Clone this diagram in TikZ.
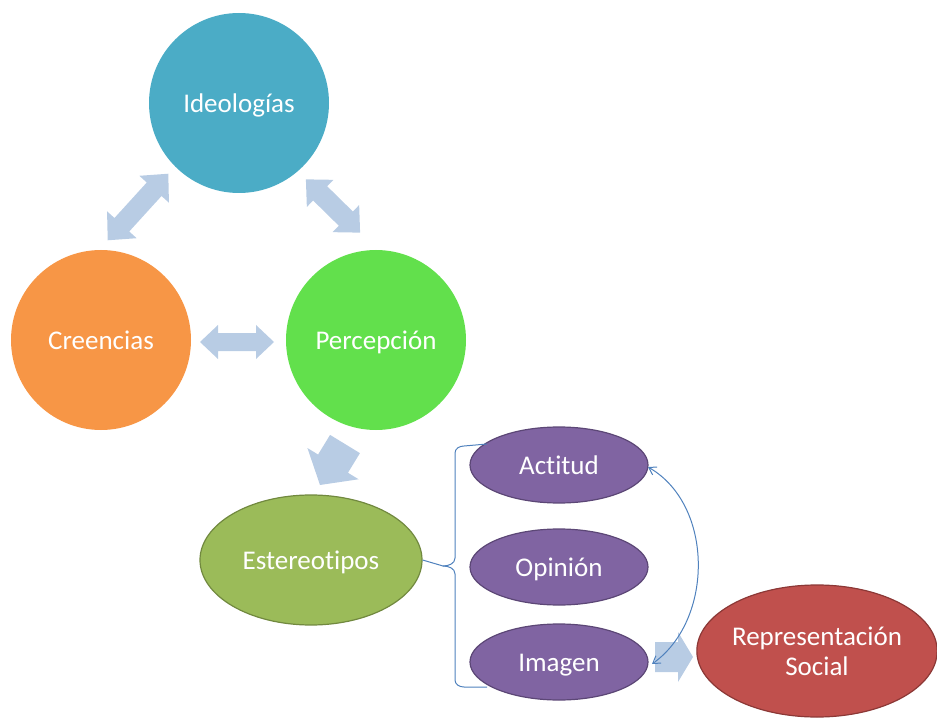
\documentclass[tikz,border=0pt]{standalone}
\usepackage{fontspec}
\setmainfont{Carlito}[Ligatures={NoCommon}]
\usetikzlibrary{shapes.geometric,arrows.meta}
\definecolor{cteal}{RGB}{75,172,198}
\definecolor{corange}{RGB}{247,150,70}
\definecolor{cgreen}{RGB}{98,224,76}
\definecolor{colive}{RGB}{155,187,89}
\definecolor{coliveb}{RGB}{113,137,63}
\definecolor{cpurple}{RGB}{128,100,162}
\definecolor{cpurpleb}{RGB}{92,71,118}
\definecolor{cred}{RGB}{192,80,77}
\definecolor{credb}{RGB}{140,56,54}
\definecolor{cblock}{RGB}{184,204,228}
\definecolor{cline}{RGB}{79,129,189}
\begin{document}
\begin{tikzpicture}[x=1pt,y=-1pt,
  lbl/.style={text=white,font=\fontsize{27}{30}\selectfont,align=center},
  oneline/.style={text height=20pt,text depth=1.5pt},
  bigcircle/.style={circle,minimum size=180pt,inner sep=0pt,lbl,oneline},
  oval/.style={ellipse,inner sep=0pt,line width=1.2pt,lbl},
  purpleoval/.style={oval,oneline,minimum width=178pt,minimum height=76pt,fill=cpurple,draw=cpurpleb},
  blockfill/.style={fill=cblock},
  thinline/.style={draw=cline,line width=1pt},
  pics/dblarrow/.style n args={4}{code={
    \fill[blockfill] ({-#1},0) -- ({-#1+#4},{#2}) -- ({-#1+#4},{#3}) -- ({#1-#4},{#3}) -- ({#1-#4},{#2}) -- ({#1},0)
      -- ({#1-#4},{-#2}) -- ({#1-#4},{-#3}) -- ({-#1+#4},{-#3}) -- ({-#1+#4},{-#2}) -- cycle;}},
  pics/sglarrow/.style n args={4}{code={
    \fill[blockfill] ({-#1},{#3}) -- ({#1-#4},{#3}) -- ({#1-#4},{#2}) -- ({#1},0)
      -- ({#1-#4},{-#2}) -- ({#1-#4},{-#3}) -- ({-#1},{-#3}) -- cycle;}}
]
\useasboundingbox (0,0) rectangle (937,719);

% block arrows
\pic[rotate=47.7] at (138,207) {dblarrow={45}{20}{10}{21}};
\pic[rotate=-44.5] at (333,206) {dblarrow={38}{19}{10}{20}};
\pic at (237,342) {dblarrow={37}{17}{9}{18}};
\pic[rotate=238.6] at (332.5,464.5) {sglarrow={24}{30}{17.5}{25}};
\pic at (674,657) {sglarrow={19}{25}{15}{15}};

% nodes
\node[bigcircle,fill=cteal] (ideo) at (239,103) {Ideologías};
\node[bigcircle,fill=corange] (cree) at (101,340) {Creencias};
\node[bigcircle,fill=cgreen] (perc) at (376,340) {Percepción};
\node[oval,oneline,minimum width=222pt,minimum height=130pt,fill=colive,draw=coliveb] (este) at (311,560) {Estereotipos};
\node[purpleoval] (acti) at (559,465) {Actitud};
\node[purpleoval] (opin) at (559,567) {Opinión};
\node[purpleoval] (imag) at (559,662) {Imagen};
\node[oval,minimum width=240pt,minimum height=132pt,fill=cred,draw=credb] (repr) at (817,651) {Representación\\Social};

% brace
\coordinate (bp) at (443,566);
\coordinate (btop) at (487,444);
\coordinate (bbot) at (487,687);
\draw[thinline] (este.east) -- (bp) to[out=0,in=-90] (455,558) -- (455,453) to[out=90,in=180] (464,446) -- (btop);
\draw[thinline] (bp) to[out=0,in=90] (455,574) -- (455,680) to[out=-90,in=180] (464,687) -- (bbot);

% curved double arrow
\coordinate (ca) at (652,664);
\coordinate (cb) at (648,467);
\draw[thinline,{Straight Barb[length=7pt,width=9pt]}-{Straight Barb[length=7pt,width=9pt]}] (ca) .. controls (714,620) and (714,505) .. (cb);
\end{tikzpicture}
\end{document}
